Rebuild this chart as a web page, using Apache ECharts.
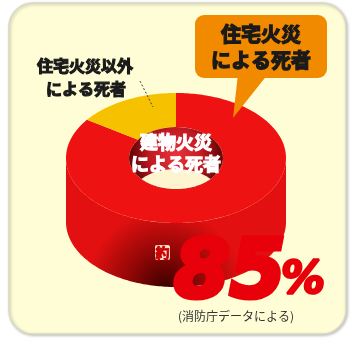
<!DOCTYPE html>
<html>
<head>
<meta charset="utf-8">
<script src="https://cdn.jsdelivr.net/npm/echarts@6/dist/echarts.min.js"></script>
<style>
html,body{margin:0;padding:0;background:#fff;}
#chart{width:354px;height:344px;}
</style>
</head>
<body>
<div id="chart"></div>
<script>
// ---- data ----
const sliceNames = ['住宅火災による死者', '住宅火災以外による死者'];
const sliceValues = [85, 15];
const centerLabelLines = ['建物火災', 'による死者'];
const calloutLines = ['住宅火災', 'による死者'];
const otherLabelLines = ['住宅火災以外', 'による死者'];
const approxText = '約';
const headlineValue = '85';
const headlineUnit = '%';
const sourceNote = '(消防庁データによる)';

// ---- styles / geometry ----
const sliceColors = ['#ef1212', '#f6c200'];
const G = { cx: 176, cy: 158, rx: 110, ry: 65, irx: 47, iry: 31, depth: 64 };
const JP = '"Noto Sans CJK JP", "Noto Sans", sans-serif';

const total = sliceValues.reduce((a, b) => a + b, 0);
function range(i) {
  let s = 0;
  for (let j = 0; j < i; j++) s += sliceValues[j];
  return [s / total * Math.PI * 2, (s + sliceValues[i]) / total * Math.PI * 2];
}
function pt(t, rx, ry, dy) {
  return [G.cx + rx * Math.sin(t), G.cy - ry * Math.cos(t) + (dy || 0)];
}
function arc(a, b, rx, ry, dy) {
  const n = Math.max(2, Math.ceil(Math.abs(b - a) / 0.02));
  const out = [];
  for (let k = 0; k <= n; k++) out.push(pt(a + (b - a) * k / n, rx, ry, dy));
  return out;
}

const chart = echarts.init(document.getElementById('chart'), null, { renderer: 'canvas' });

const wallGrad = new echarts.graphic.RadialGradient(0.45, 1.0, 0.6, [
  { offset: 0, color: '#3c0000' },
  { offset: 0.45, color: '#8e0606' },
  { offset: 1, color: '#e21010' }
]);

// hole lens (see-through part at bottom of hole)
const d = 42;
const t0 = Math.asin(d / (2 * G.iry));
function holePt(t, dy) { return [G.cx + G.irx * Math.cos(t), G.cy + G.iry * Math.sin(t) + dy]; }
const lens = [];
for (let k = 0; k <= 40; k++) lens.push(holePt(t0 + (Math.PI - 2 * t0) * k / 40, 0));
for (let k = 0; k <= 40; k++) lens.push(holePt(Math.PI + t0 + (Math.PI - 2 * t0) * k / 40, d));

function boldText(x, y, text, size, fill, extra) {
  return Object.assign({ type: 'text', z: 13, style: Object.assign({ x: x, y: y, text: text, align: 'center', verticalAlign: 'middle',
    font: 'bold ' + size + 'px ' + JP, fill: fill, stroke: fill, lineWidth: 1.1 }, extra || {}) });
}

const option = {
  animation: false,
  series: [
    {
      type: 'custom',
      coordinateSystem: 'none',
      z: 3,
      data: sliceValues.map((v, i) => ({ name: sliceNames[i], value: v })),
      renderItem: function (params, api) {
        const r = range(params.dataIndex);
        const a = Math.max(r[0], Math.PI / 2), b = Math.min(r[1], Math.PI * 1.5);
        if (b <= a) return { type: 'group', children: [] };
        const pts = arc(a, b, G.rx, G.ry, 0).concat(arc(b, a, G.rx, G.ry, G.depth));
        return { type: 'polygon', shape: { points: pts }, style: { fill: wallGrad } };
      }
    },
    {
      type: 'custom',
      coordinateSystem: 'none',
      z: 4,
      data: sliceValues.map((v, i) => ({ name: sliceNames[i], value: v })),
      renderItem: function (params, api) {
        const r = range(params.dataIndex);
        const pts = arc(r[0], r[1], G.rx, G.ry, 0).concat(arc(r[1], r[0], G.irx, G.iry, 0));
        return { type: 'polygon', shape: { points: pts }, style: { fill: sliceColors[params.dataIndex] } };
      }
    }
  ],
  graphic: [
    { type: 'rect', z: -10, shape: { x: 9, y: 3, width: 337, height: 331, r: 24 },
      style: { fill: '#fefdd6', stroke: '#d9d9c6', lineWidth: 1.5, shadowBlur: 3, shadowColor: 'rgba(0,0,0,0.25)', shadowOffsetX: 1, shadowOffsetY: 1 } },
    // hole
    { type: 'ellipse', z: 10, shape: { cx: G.cx, cy: G.cy, rx: G.irx, ry: G.iry },
      style: { fill: new echarts.graphic.RadialGradient(0.5, 0.45, 0.7, [
        { offset: 0, color: '#e8333c' }, { offset: 0.6, color: '#c21a22' }, { offset: 1, color: '#6e0808' }]) } },
    { type: 'polygon', z: 11, shape: { points: lens }, style: { fill: '#fdf5d0' } },
    // center label
    boldText(G.cx, 142, centerLabelLines[0], 18, '#ffffff', { stroke: '#ffffff', lineWidth: 1.2, shadowBlur: 5, shadowColor: '#ff6a6a' }),
    boldText(G.cx, 164, centerLabelLines[1], 18, '#ffffff', { stroke: '#ffffff', lineWidth: 1.2, shadowBlur: 5, shadowColor: '#ff6a6a' }),
    // callout
    { type: 'polygon', z: 12, shape: { points: [[238, 74], [268, 74], [233, 118]] }, style: { fill: '#f28a00' } },
    { type: 'rect', z: 12, shape: { x: 195, y: 15, width: 132, height: 63, r: 9 }, style: { fill: '#f28a00' } },
    boldText(261, 34, calloutLines[0], 20, '#1a1a1a', { lineWidth: 1.3 }),
    boldText(261, 60, calloutLines[1], 20, '#1a1a1a', { lineWidth: 1.3 }),
    // other label
    boldText(85, 66, otherLabelLines[0], 16, '#1a1a1a'),
    boldText(86, 89, otherLabelLines[1], 16, '#1a1a1a'),
    { type: 'line', z: 13, shape: { x1: 140, y1: 81, x2: 153, y2: 107 }, style: { stroke: '#444', lineWidth: 1, lineDash: [2, 2] } },
    // headline
    { type: 'rect', z: 12, shape: { x: 155, y: 245, width: 15, height: 15, r: 2 }, style: { fill: '#ffd8c8' } },
    boldText(162.5, 252.5, approxText, 14, '#c80000', { lineWidth: 0.8 }),
    { type: 'text', z: 13, style: { x: 174, y: 276, text: headlineValue, align: 'left', verticalAlign: 'middle',
      font: 'italic 900 80px "DejaVu Sans", sans-serif', fill: '#e8000a', stroke: '#e8000a', lineWidth: 5,
      shadowBlur: 0, shadowColor: 'rgba(255,220,210,0.9)', shadowOffsetX: -1, shadowOffsetY: -1 } },
    { type: 'text', z: 13, style: { x: 281, y: 282, text: headlineUnit, align: 'left', verticalAlign: 'middle',
      font: 'italic 900 44px "DejaVu Sans", sans-serif', fill: '#e8000a', stroke: '#e8000a', lineWidth: 2.5 } },
    { type: 'text', z: 13, style: { x: 236, y: 316, text: sourceNote, align: 'center', verticalAlign: 'middle',
      font: '12px ' + JP, fill: '#333' } }
  ]
};
chart.setOption(option);
</script>
</body>
</html>
